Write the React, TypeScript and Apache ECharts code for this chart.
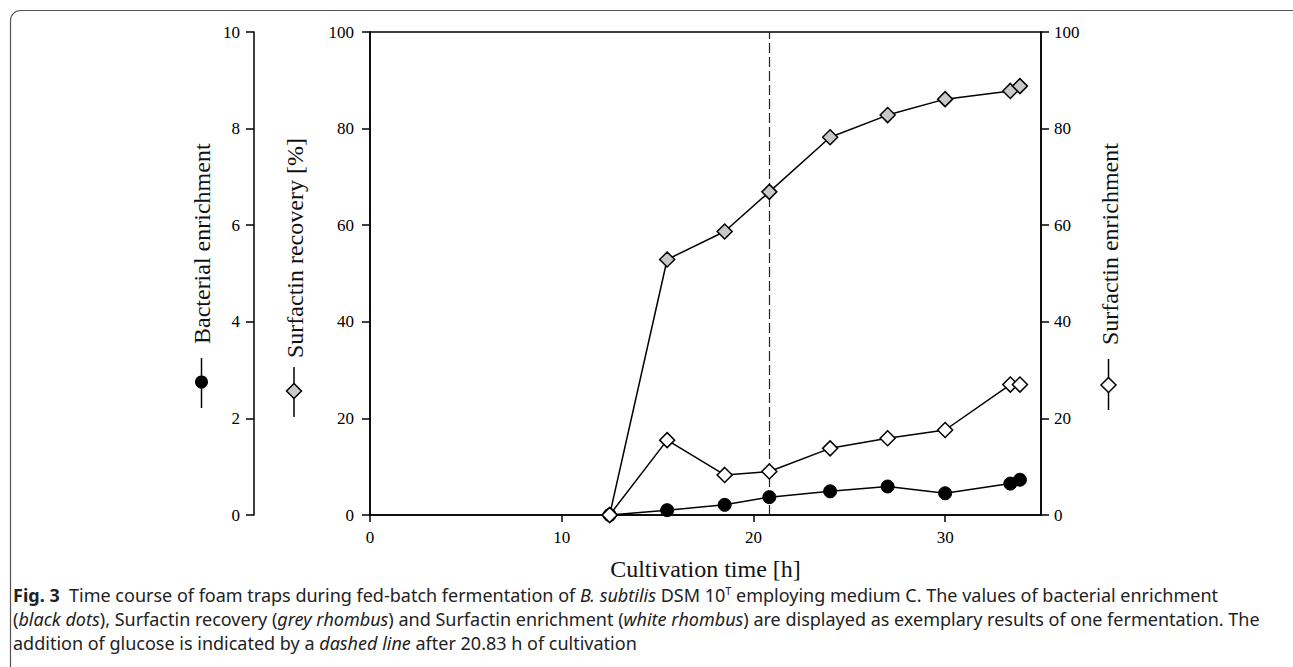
import React, { useEffect, useRef } from "react";
import * as echarts from "echarts";

// ---- data ----
const timeH = [12.5, 15.5, 18.5, 20.83, 24, 27, 30, 33.4, 33.9];
const bacterialEnrichment = [0, 0.1, 0.21, 0.37, 0.49, 0.59, 0.45, 0.65, 0.73];
const surfactinRecovery = [0, 52.9, 58.7, 66.9, 78.2, 82.8, 86.1, 87.8, 88.8];
const surfactinEnrichment = [0, 15.5, 8.3, 9.0, 13.8, 15.9, 17.6, 27.0, 27.0];
const xTickValues = [0, 10, 20, 30];
const glucoseAdditionH = 20.83;

const xAxisTitle = "Cultivation time [h]";
const leftOuterTitle = "Bacterial enrichment";
const leftInnerTitle = "Surfactin recovery [%]";
const rightTitle = "Surfactin enrichment";

const captionLines = [
  "{b|Fig. 3}  Time course of foam traps during fed-batch fermentation of {i|B. subtilis} DSM 10{sup|T} employing medium C. The values of bacterial enrichment",
  "({i|black dots}), Surfactin recovery ({i|grey rhombus}) and Surfactin enrichment ({i|white rhombus}) are displayed as exemplary results of one fermentation. The",
  "addition of glucose is indicated by a {i|dashed line} after 20.83 h of cultivation",
];

const SERIF = "Liberation Serif";
const SANS = "Noto Sans";
const GREY = "#c8c8c8";
const CAP = 18;

function pairs(ys: number[]) {
  return timeH.map((t, i) => [t, ys[i]]);
}

function diamond(cx: number, cy: number, r: number, fill: string) {
  return {
    type: "polygon",
    shape: { points: [[cx, cy - r], [cx + r, cy], [cx, cy + r], [cx - r, cy]] },
    style: { fill, stroke: "#000", lineWidth: 1.5 },
    z: 10,
  };
}

export default function App() {
  const ref = useRef<HTMLDivElement>(null);

  useEffect(() => {
    if (!ref.current) return;
    const chart = echarts.init(ref.current, undefined, { renderer: "svg" });

    const axisLine = { show: true, lineStyle: { color: "#000", width: 1.5 } };
    const axisTick = { show: true, inside: false, length: 8, lineStyle: { color: "#000", width: 1.5 } };
    const axisLabelBase = { color: "#000", fontFamily: SERIF, fontSize: 17 };

    const option: any = {
      animation: false,
      backgroundColor: "#fff",
      textStyle: { fontFamily: SERIF },
      grid: {
        left: 370,
        top: 32,
        width: 671,
        height: 483,
        show: true,
        borderColor: "#000",
        borderWidth: 1.5,
        backgroundColor: "transparent",
        containLabel: false,
      },
      xAxis: {
        type: "value",
        min: 0,
        max: 35,
        interval: 10,
        name: xAxisTitle,
        nameLocation: "middle",
        nameGap: 42,
        nameTextStyle: { fontFamily: SERIF, fontSize: 24, color: "#111" },
        axisLine,
        axisTick: { ...axisTick, length: 7, customValues: xTickValues },
        axisLabel: { ...axisLabelBase, margin: 14, customValues: xTickValues },
        splitLine: { show: false },
      },
      yAxis: [
        {
          type: "value",
          position: "left",
          min: 0,
          max: 100,
          interval: 20,
          axisLine,
          axisTick,
          axisLabel: { ...axisLabelBase, margin: 16 },
          splitLine: { show: false },
        },
        {
          type: "value",
          position: "left",
          offset: 116,
          min: 0,
          max: 10,
          interval: 2,
          axisLine,
          axisTick,
          axisLabel: { ...axisLabelBase, margin: 14 },
          splitLine: { show: false },
        },
        {
          type: "value",
          position: "right",
          min: 0,
          max: 100,
          interval: 20,
          axisLine,
          axisTick,
          axisLabel: { ...axisLabelBase, margin: 13 },
          splitLine: { show: false },
        },
      ],
      series: [
        {
          name: "Surfactin recovery",
          type: "line",
          yAxisIndex: 0,
          data: pairs(surfactinRecovery),
          symbol: "diamond",
          symbolSize: 15,
          itemStyle: { color: GREY, borderColor: "#000", borderWidth: 1.5 },
          lineStyle: { color: "#000", width: 1.5 },
          z: 3,
          markLine: {
            silent: true,
            symbol: "none",
            label: { show: false },
            lineStyle: { color: "#222", width: 1.2, type: [10, 4] },
            data: [{ xAxis: glucoseAdditionH }],
            z: 1,
          },
        },
        {
          name: "Bacterial enrichment",
          type: "line",
          yAxisIndex: 1,
          data: pairs(bacterialEnrichment),
          symbol: "circle",
          symbolSize: 13,
          itemStyle: { color: "#000", borderColor: "#000", borderWidth: 1 },
          lineStyle: { color: "#000", width: 1.5 },
          z: 4,
        },
        {
          name: "Surfactin enrichment",
          type: "line",
          yAxisIndex: 2,
          data: pairs(surfactinEnrichment),
          symbol: "diamond",
          symbolSize: 15,
          itemStyle: { color: "#fff", borderColor: "#000", borderWidth: 1.5 },
          lineStyle: { color: "#000", width: 1.5 },
          z: 5,
        },
      ],
      graphic: [
        {
          type: "rect",
          shape: { x: 10.5, y: 10.5, width: 1300, height: 700, r: 10 },
          style: { fill: "none", stroke: "#555", lineWidth: 1.2 },
          silent: true,
          z: 0,
        },
        // left outer axis title + legend symbol
        {
          type: "text",
          x: 202,
          y: 344,
          rotation: Math.PI / 2,
          style: { text: leftOuterTitle, fontFamily: SERIF, fontSize: 24, fill: "#111", align: "left", verticalAlign: "middle" },
        },
        { type: "line", shape: { x1: 201.5, y1: 358, x2: 201.5, y2: 408 }, style: { stroke: "#000", lineWidth: 1.5 } },
        { type: "circle", shape: { cx: 201.5, cy: 382, r: 6.5 }, style: { fill: "#000" }, z: 10 },
        // left inner axis title + legend symbol
        {
          type: "text",
          x: 295,
          y: 358,
          rotation: Math.PI / 2,
          style: { text: leftInnerTitle, fontFamily: SERIF, fontSize: 24, fill: "#111", align: "left", verticalAlign: "middle" },
        },
        { type: "line", shape: { x1: 294, y1: 367, x2: 294, y2: 417 }, style: { stroke: "#000", lineWidth: 1.5 } },
        diamond(294, 391, 7.5, GREY),
        // right axis title + legend symbol
        {
          type: "text",
          x: 1110,
          y: 345,
          rotation: Math.PI / 2,
          style: { text: rightTitle, fontFamily: SERIF, fontSize: 24, fill: "#111", align: "left", verticalAlign: "middle" },
        },
        { type: "line", shape: { x1: 1108.5, y1: 359, x2: 1108.5, y2: 410 }, style: { stroke: "#000", lineWidth: 1.5 } },
        diamond(1108.5, 385, 7.5, "#fff"),
        // caption
        ...captionLines.map((line, i) => ({
          type: "text",
          x: 13,
          y: 595 + i * 24,
          style: {
            text: line,
            fontFamily: SANS,
            fontSize: CAP,
            fill: "#222",
            align: "left",
            verticalAlign: "middle",
            rich: {
              b: { fontFamily: SANS, fontSize: CAP, fontWeight: "bold", fill: "#222" },
              i: { fontFamily: SANS, fontSize: CAP, fontStyle: "italic", fill: "#222" },
              sup: { fontFamily: SANS, fontSize: 11, fill: "#222", padding: [0, 0, 10, 0] },
            },
          },
        })),
      ],
    };

    chart.setOption(option);
    return () => chart.dispose();
  }, []);

  return (
    <div
      ref={ref}
      style={{ position: "absolute", left: 0, top: 0, width: 1293, height: 667, background: "#fff" }}
    />
  );
}
